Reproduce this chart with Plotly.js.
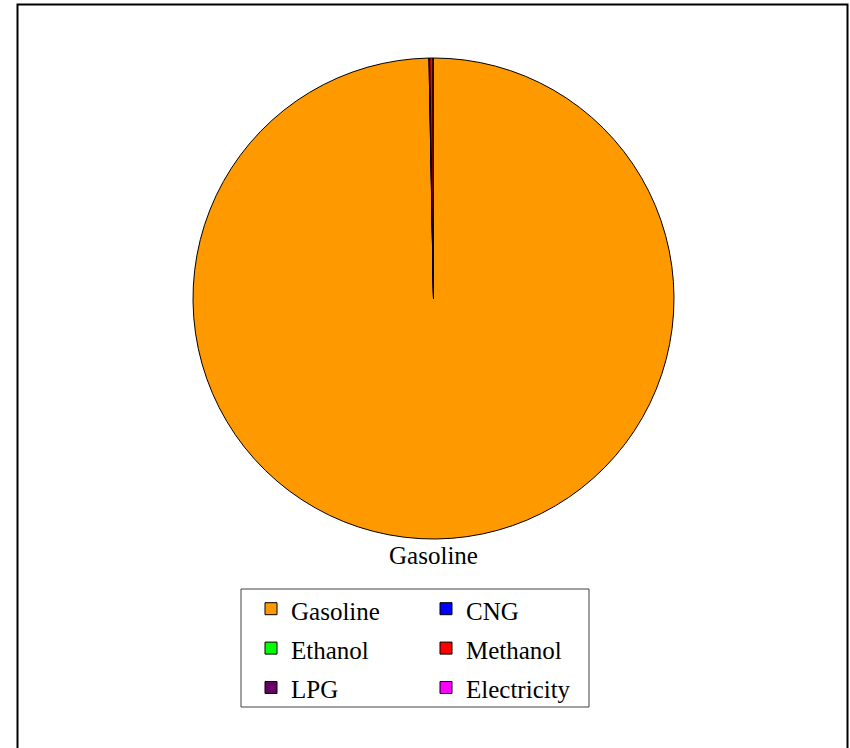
<!DOCTYPE html>
<html>
<head>
<meta charset="utf-8">
<script src="https://cdn.plot.ly/plotly-3.0.1.min.js"></script>
<style>html,body{margin:0;padding:0;background:#fff;}#chart{width:850px;height:748px;}</style>
</head>
<body>
<div id="chart"></div>
<script>
// ---- data ----
var categories = ['Gasoline', 'CNG', 'Ethanol', 'Methanol', 'LPG', 'Electricity'];
var shares = [99.70, 0.02, 0.03, 0.22, 0.02, 0.01];
var sliceColors = ['#FF9900', '#0000FF', '#00FF00', '#FF0000', '#660066', '#FF00FF'];
var labelledSlice = 'Gasoline';

// ---- layout geometry (pixels) ----
var W = 850, H = 748;
var M = {l: 184, r: 167, t: 58, b: 182};
var gw = W - M.l - M.r, gh = H - M.t - M.b;
function px(x) { return (x - M.l) / gw; }
function py(y) { return (H - M.b - y) / gh; }

var serif = 'Liberation Serif, Times New Roman, serif';

var trace = {
  type: 'pie',
  labels: categories.map(function (c) { return '<span style="font-size:25px">' + c + '</span>'; }),
  values: shares,
  textinfo: 'none',
  title: {text: labelledSlice, position: 'bottom center', font: {family: serif, size: 25, color: '#000'}},
  sort: false,
  direction: 'clockwise',
  rotation: 0,
  marker: {colors: sliceColors, line: {color: '#000', width: 1}},
  hoverinfo: 'none',
  automargin: false
};

var layout = {
  width: W, height: H,
  margin: {l: M.l, r: M.r, t: M.t, b: M.b, autoexpand: false},
  paper_bgcolor: '#fff',
  plot_bgcolor: '#fff',
  showlegend: true,
  legend: {
    orientation: 'h',
    entrywidth: 130,
    entrywidthmode: 'pixels',
    x: px(251), xanchor: 'left',
    y: py(584), yanchor: 'top',
    bgcolor: 'rgba(0,0,0,0)',
    borderwidth: 0,
    font: {family: serif, size: 28, color: '#000'}
  },
  shapes: [
    {type: 'rect', xref: 'paper', yref: 'paper', layer: 'below',
     x0: px(241), x1: px(589), y0: py(589), y1: py(707),
     line: {color: '#404040', width: 1}, fillcolor: '#fff'},
    {type: 'rect', xref: 'paper', yref: 'paper', layer: 'below',
     x0: px(17.5), x1: px(847.5), y0: py(4.5), y1: py(760),
     line: {color: '#000', width: 2}, fillcolor: 'rgba(0,0,0,0)'}
  ]
};

Plotly.newPlot('chart', [trace], layout, {displayModeBar: false, staticPlot: true});
</script>
</body>
</html>
